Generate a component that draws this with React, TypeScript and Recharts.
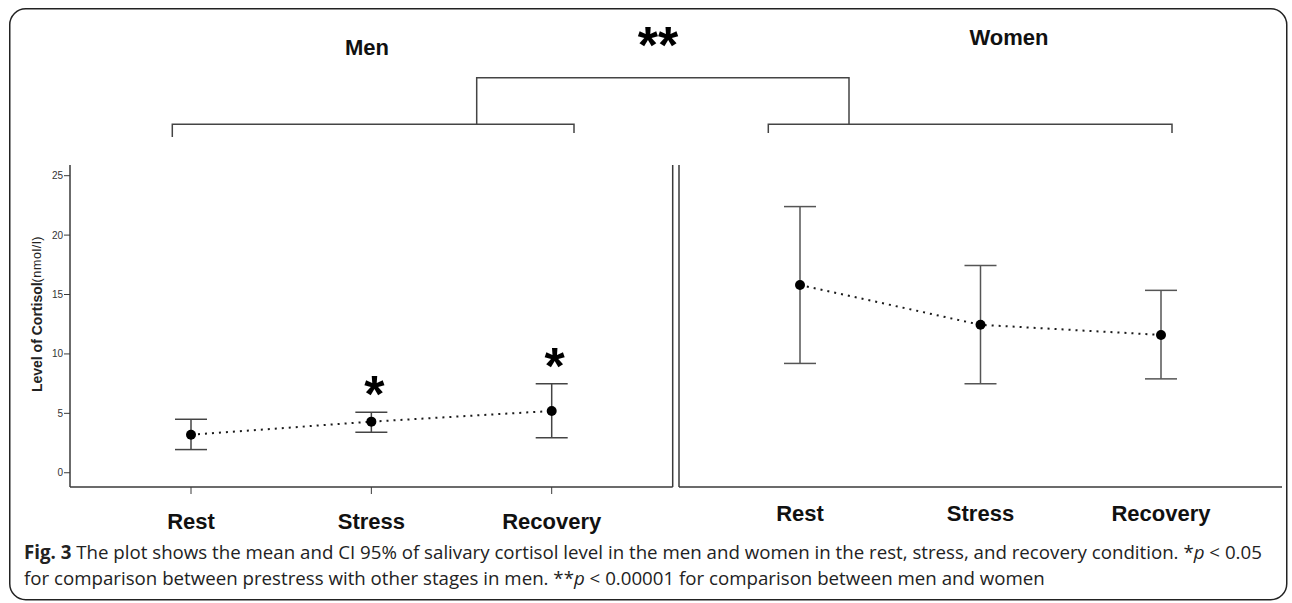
import React from 'react';
import { LineChart, Line, XAxis, YAxis, ErrorBar, LabelList, Label } from 'recharts';

// Salivary cortisol (nmol/l): mean with 95% CI per condition
const conditions = ['Rest', 'Stress', 'Recovery'];

const menMean = [3.2, 4.3, 5.2];
const menLower = [1.95, 3.4, 2.95];
const menUpper = [4.5, 5.1, 7.5];
const menSignificance = ['', '*', '*'];

const womenMean = [15.8, 12.45, 11.6];
const womenLower = [9.2, 7.5, 7.9];
const womenUpper = [22.4, 17.45, 15.35];

const yTicks = [0, 5, 10, 15, 20, 25];

const SANS = '"Liberation Sans", Arial, Helvetica, sans-serif';
const CAPTION_FONT = '"Open Sans", "Noto Sans", sans-serif';
const AXIS = '#3a3a3a';

const buildRows = (mean: number[], lower: number[], upper: number[], sig?: string[]) =>
  conditions.map((condition, i) => ({
    condition,
    mean: mean[i],
    upper: upper[i],
    ci: [mean[i] - lower[i], upper[i] - mean[i]],
    sig: sig ? sig[i] : '',
  }));

const menRows = buildRows(menMean, menLower, menUpper, menSignificance);
const womenRows = buildRows(womenMean, womenLower, womenUpper);

const Y_DOMAIN: [number, number] = [-1.2, 25.9];
const X_PADDING = { left: 121, right: 121 };

const makeCategoryTick = (shift: number) => (props: any) => {
  const { x, y, payload } = props;
  return (
    <text
      x={x}
      y={y + shift}
      textAnchor="middle"
      dominantBaseline="central"
      fontFamily={SANS}
      fontWeight={700}
      fontSize={22}
      fill="#111"
    >
      {payload.value}
    </text>
  );
};

const SigMark = (props: any) => {
  const { x, y, value } = props;
  if (!value) return null;
  return (
    <text x={x + 3} y={y + 0} textAnchor="middle" fontFamily={SANS} fontWeight={700} fontSize={52} fill="#000">
      {value}
    </text>
  );
};

const YTitle = (props: any) => {
  const vb = props.viewBox || { x: 0, y: 165, width: 70, height: 322 };
  const cx = vb.x + 37;
  const cy = vb.y + vb.height / 2 - 12;
  return (
    <text
      x={cx}
      y={cy}
      transform={`rotate(-90 ${cx} ${cy})`}
      textAnchor="middle"
      dominantBaseline="central"
      fontFamily={SANS}
      fill="#222"
    >
      <tspan fontWeight={700} fontSize={14}>Level of Cortisol</tspan>
      <tspan fontSize={12.5} letterSpacing={0.6}>(nmol/l)</tspan>
    </text>
  );
};

const meanLineProps = {
  type: 'linear' as const,
  dataKey: 'mean',
  stroke: '#1a1a1a',
  strokeWidth: 2,
  strokeDasharray: '2 5',
  dot: { r: 5, fill: '#000', stroke: '#000', strokeWidth: 0 },
  activeDot: false as const,
  isAnimationActive: false,
};

function MenPanel() {
  return (
    <LineChart width={680} height={560} data={menRows} margin={{ top: 165, right: 6.3, bottom: 0, left: 0 }}>
      <XAxis
        dataKey="condition"
        type="category"
        padding={X_PADDING}
        height={73}
        tickSize={7}
        tickMargin={0}
        axisLine={{ stroke: AXIS, strokeWidth: 1.5 }}
        tickLine={{ stroke: AXIS, strokeWidth: 1 }}
        tick={makeCategoryTick(27)}
        interval={0}
      />
      <YAxis
        width={70}
        domain={Y_DOMAIN}
        allowDataOverflow
        ticks={yTicks}
        interval={0}
        tickSize={6}
        tickMargin={1}
        axisLine={{ stroke: AXIS, strokeWidth: 1.5 }}
        tickLine={{ stroke: AXIS, strokeWidth: 1 }}
        tick={{ fontSize: 10, fill: '#333', fontFamily: SANS }}
      >
        <Label content={YTitle} />
      </YAxis>
      {/* right-hand frame of the men panel */}
      <YAxis
        yAxisId="frame"
        orientation="right"
        width={1}
        domain={Y_DOMAIN}
        allowDataOverflow
        tick={false}
        tickLine={false}
        axisLine={{ stroke: AXIS, strokeWidth: 1.5 }}
      />
      <Line
        yAxisId="frame"
        dataKey="mean"
        stroke="none"
        dot={false}
        activeDot={false}
        isAnimationActive={false}
        legendType="none"
      />
      <Line {...meanLineProps}>
        <ErrorBar dataKey="ci" width={16} stroke="#444" strokeWidth={1.5} direction="y" />
      </Line>
      <Line
        dataKey="upper"
        stroke="none"
        dot={false}
        activeDot={false}
        isAnimationActive={false}
        legendType="none"
      >
        <LabelList dataKey="sig" content={SigMark} />
      </Line>
    </LineChart>
  );
}

function WomenPanel() {
  return (
    <LineChart width={662} height={560} data={womenRows} margin={{ top: 165, right: 0, bottom: 0, left: 0 }}>
      <XAxis
        dataKey="condition"
        type="category"
        padding={X_PADDING}
        height={73}
        tickSize={7}
        tickMargin={0}
        axisLine={{ stroke: AXIS, strokeWidth: 1.5 }}
        tickLine={false}
        tick={makeCategoryTick(19)}
        interval={0}
      />
      <YAxis
        width={59}
        domain={Y_DOMAIN}
        allowDataOverflow
        ticks={yTicks}
        tick={false}
        tickLine={false}
        axisLine={{ stroke: AXIS, strokeWidth: 1.5 }}
      />
      <Line {...meanLineProps}>
        <ErrorBar dataKey="ci" width={16} stroke="#555" strokeWidth={1.5} direction="y" />
      </Line>
    </LineChart>
  );
}

export default function App() {
  const bracket = { stroke: '#444', strokeWidth: 1.5, fill: 'none' };
  return (
    <div
      style={{
        position: 'absolute',
        left: 0,
        top: 0,
        width: 1292,
        height: 603,
        overflow: 'hidden',
        background: '#fff',
      }}
    >
      <div style={{ position: 'absolute', left: 0, top: 0 }}>
        <MenPanel />
      </div>
      <div style={{ position: 'absolute', left: 620, top: 0 }}>
        <WomenPanel />
      </div>
      <svg
        width={1292}
        height={603}
        style={{ position: 'absolute', left: 0, top: 0, pointerEvents: 'none' }}
      >
        <rect x={9.75} y={8.75} width={1277} height={591} rx={16} ry={16} stroke="#222" strokeWidth={1.5} fill="none" />

        {/* group titles */}
        <text x={367} y={55} textAnchor="middle" fontFamily={SANS} fontWeight={700} fontSize={22} fill="#111">
          Men
        </text>
        <text x={1009} y={45} textAnchor="middle" fontFamily={SANS} fontWeight={700} fontSize={22} fill="#111">
          Women
        </text>
        <text x={658} y={63} textAnchor="middle" fontFamily={SANS} fontWeight={700} fontSize={52} fill="#000">
          **
        </text>

        {/* comparison brackets */}
        <path d="M172.3 137 V124.3 H574 V133" {...bracket} />
        <path d="M768.3 133 V124.3 H1172 V133" {...bracket} />
        <path d="M476.7 124.3 V77.7 H849 V124.3" {...bracket} />

        {/* caption */}
        <text x={24} y={559} fontFamily={CAPTION_FONT} fontSize={18.7} fill="#222">
          <tspan fontWeight={700}>Fig. 3</tspan>
          <tspan> The plot shows the mean and CI 95% of salivary cortisol level in the men and women in the rest, stress, and recovery condition. *</tspan>
          <tspan fontStyle="italic">p</tspan>
          <tspan> &lt; 0.05</tspan>
        </text>
        <text x={24} y={585} fontFamily={CAPTION_FONT} fontSize={18.7} fill="#222">
          <tspan>for comparison between prestress with other stages in men. **</tspan>
          <tspan fontStyle="italic">p</tspan>
          <tspan> &lt; 0.00001 for comparison between men and women</tspan>
        </text>
      </svg>
    </div>
  );
}
